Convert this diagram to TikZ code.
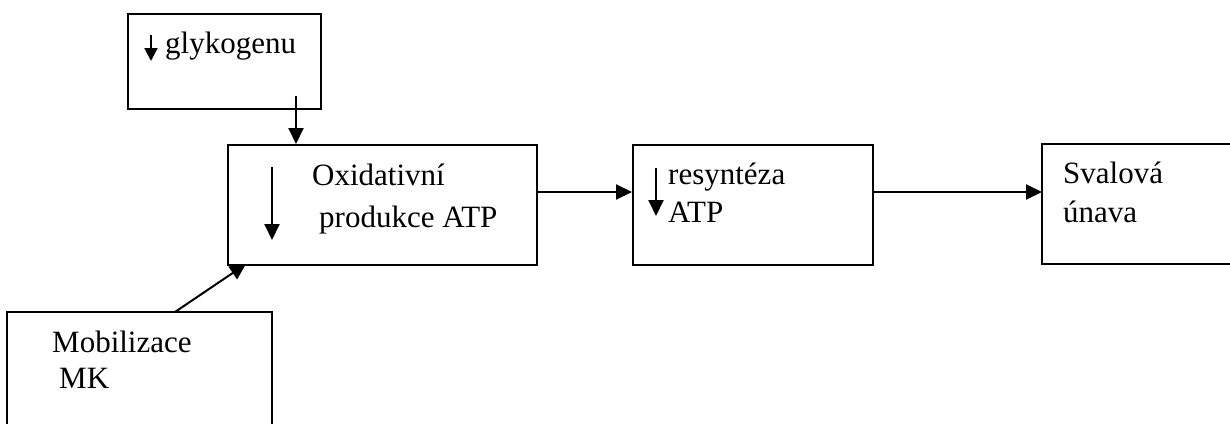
\documentclass[tikz,border=0pt]{standalone}
\usepackage{fontspec}
\setmainfont{Liberation Serif}
\usetikzlibrary{arrows.meta}
\begin{document}
\begin{tikzpicture}[x=1pt,y=-1pt,
  box/.style={draw=black,line width=2pt},
  conn/.style={draw=black,line width=2pt,-{Triangle[length=16pt,width=15pt]}},
  lbl/.style={anchor=base west,inner sep=0pt,font=\fontsize{31}{37}\selectfont}]
\useasboundingbox (0,0) rectangle (1230,423);
\fill[white] (0,0) rectangle (1230,423);
% boxes
\node[box,minimum width=193pt,minimum height=95pt,anchor=north west,inner sep=0pt] (gb) at (127,13) {};
\node[box,minimum width=309pt,minimum height=120pt,anchor=north west,inner sep=0pt] (ox) at (227,144) {};
\node[box,minimum width=240pt,minimum height=120pt,anchor=north west,inner sep=0pt] (rs) at (632,144) {};
\node[minimum width=200pt,minimum height=120pt,anchor=north west,inner sep=0pt] (sv) at (1042,144) {};
\draw[line width=2pt] (sv.north east) -- (sv.north west) -- (sv.south west) -- (sv.south east);
\node[minimum width=265pt,minimum height=120pt,anchor=north west,inner sep=0pt] (mk) at (7,312) {};
\draw[line width=2pt] (mk.south west) -- (mk.north west) -- (mk.north east) -- (mk.south east);
% texts
\node[lbl] (tg) at (165,53) {glykogenu};
\node[lbl] (to1) at (312,185) {Oxidativní};
\node[lbl] (to2) at (319,227) {produkce ATP};
\node[lbl] (tr1) at (668,184) {resyntéza};
\node[lbl] (tr2) at (668,222) {ATP};
\node[lbl] (ts1) at (1063,183) {Svalová};
\node[lbl] (ts2) at (1063,222) {únava};
\node[lbl] (tm1) at (52,352) {Mobilizace};
\node[lbl] (tm2) at (59,388) {MK};
% small down arrows inside boxes
\coordinate (ga1) at (151,35); \coordinate (ga2) at (151,61);
\draw[line width=2pt,-{Triangle[length=13pt,width=13pt]}] (ga1) -- (ga2);
\coordinate (oa1) at (272,167); \coordinate (oa2) at (272,240);
\draw[conn] (oa1) -- (oa2);
\coordinate (ra1) at (656,168); \coordinate (ra2) at (656,216);
\draw[conn] (ra1) -- (ra2);
% connectors
\coordinate (gs) at (296,96);
\draw[conn] (gs) -- (gs |- ox.north);
\draw[conn] (ox.east |- 0,192) -- (rs.west |- 0,192);
\draw[conn] (rs.east |- 0,192) -- (sv.west |- 0,192);
\coordinate (ms) at (175,312); \coordinate (me) at (246,264);
\draw[conn] (ms) -- (me);
\end{tikzpicture}
\end{document}
